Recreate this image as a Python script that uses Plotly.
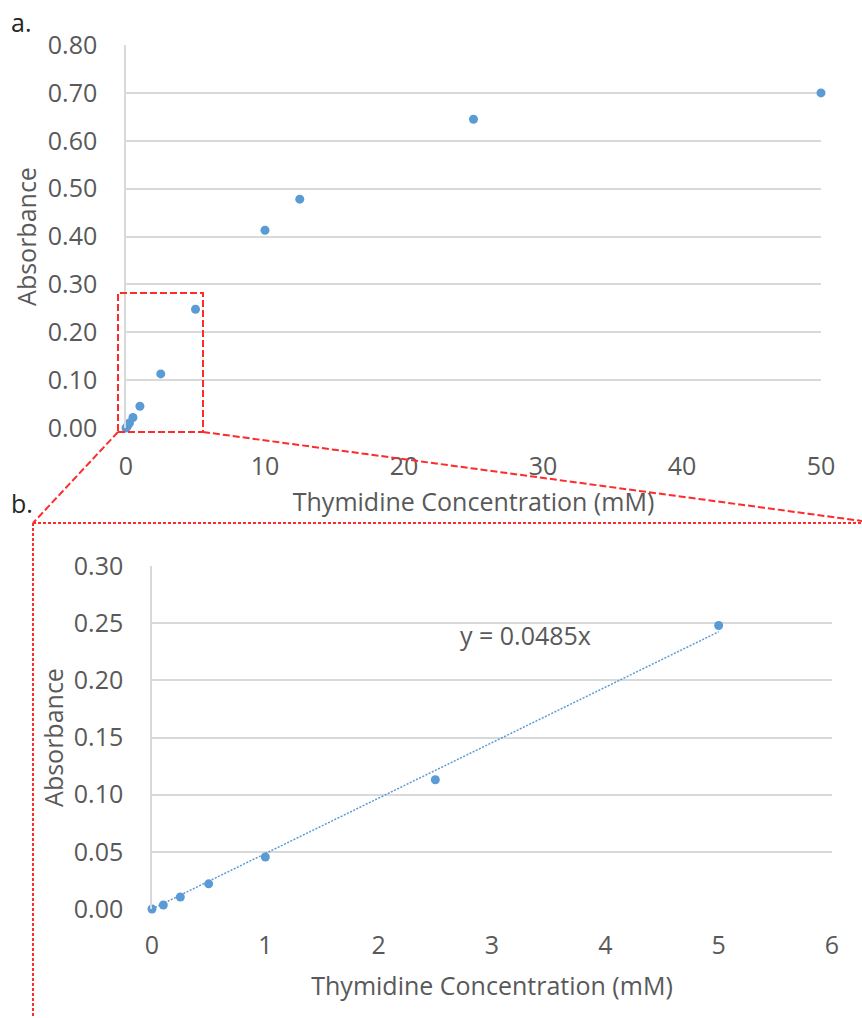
import plotly.graph_objects as go

# Thymidine standard curve data
conc_mM = [0, 0.1, 0.25, 0.5, 1, 2.5, 5, 10, 12.5, 25, 50]
absorbance = [0.0, 0.0035, 0.0105, 0.022, 0.0455, 0.113, 0.248, 0.413, 0.478, 0.645, 0.700]

# low-concentration subset (0-5 mM) for the zoomed panel
low_conc = [0, 0.1, 0.25, 0.5, 1, 2.5, 5]
low_abs = [0.0, 0.0035, 0.0105, 0.022, 0.0455, 0.113, 0.248]

slope = 0.0485
fit_x = [0, 5]
fit_y = [slope * v for v in fit_x]

top_yticks = [0, 0.1, 0.2, 0.3, 0.4, 0.5, 0.6, 0.7, 0.8]
top_xticks = [0, 10, 20, 30, 40, 50]
bot_yticks = [0, 0.05, 0.10, 0.15, 0.20, 0.25, 0.30]
bot_xticks = [0, 1, 2, 3, 4, 5, 6]

W, H = 862, 1018
BLUE = "#5B9BD5"
GRID = "#D9D9D9"
TXT = "#595959"
RED = "#FF2A2A"
FONT = "Open Sans"
FS = 25


def px(x):
    return x / W


def py(y):
    return 1 - y / H


fig = go.Figure()

fig.add_trace(go.Scatter(
    x=conc_mM, y=absorbance, mode="markers",
    marker=dict(color=BLUE, size=9), cliponaxis=False,
    xaxis="x", yaxis="y", showlegend=False,
))
fig.add_trace(go.Scatter(
    x=fit_x, y=fit_y, mode="lines",
    line=dict(color=BLUE, width=1.5, dash="2px,1.5px"),
    xaxis="x2", yaxis="y2", showlegend=False, cliponaxis=False,
))
fig.add_trace(go.Scatter(
    x=low_conc, y=low_abs, mode="markers",
    marker=dict(color=BLUE, size=9), cliponaxis=False,
    xaxis="x2", yaxis="y2", showlegend=False,
))

axis_font = dict(family=FONT, size=FS, color=TXT)
title_font = dict(family=FONT, size=FS, color=TXT)

common_x = dict(showgrid=False, zeroline=False, showline=False, ticks="",
                tickfont=axis_font, automargin=False)
common_y = dict(showgrid=True, gridcolor=GRID, gridwidth=1.5, zeroline=False,
                showline=True, linecolor=GRID, linewidth=1.5, ticks="",
                tickfont=axis_font, automargin=False)

fig.update_layout(
    width=W, height=H,
    margin=dict(l=0, r=0, t=0, b=0),
    paper_bgcolor="white", plot_bgcolor="white",
    font=dict(family=FONT, color=TXT),
    xaxis=dict(
        domain=[px(126), px(821)], range=[0, 50],
        tickvals=top_xticks, ticktext=[str(v) for v in top_xticks],
        ticklabelstandoff=21,
        title=dict(text="Thymidine Concentration (mM)", font=title_font, standoff=12),
        anchor="y", **common_x,
    ),
    yaxis=dict(
        domain=[py(428), py(45)], range=[0, 0.8],
        tickvals=top_yticks, ticktext=[f"{v:.2f}" for v in top_yticks],
        ticklabelstandoff=22,
        title=dict(text="Absorbance", font=title_font, standoff=4),
        anchor="x", **common_y,
    ),
    xaxis2=dict(
        domain=[px(152), px(832)], range=[0, 6],
        tickvals=bot_xticks, ticktext=[str(v) for v in bot_xticks],
        ticklabelstandoff=19,
        title=dict(text="Thymidine Concentration (mM)", font=title_font, standoff=17),
        anchor="y2", **common_x,
    ),
    yaxis2=dict(
        domain=[py(909), py(566)], range=[0, 0.30],
        tickvals=bot_yticks, ticktext=[f"{v:.2f}" for v in bot_yticks],
        ticklabelstandoff=22,
        title=dict(text="Absorbance", font=title_font, standoff=3),
        anchor="x2", **common_y,
    ),
)

# panel letters and fit equation
fig.add_annotation(x=px(9), y=py(22), xref="paper", yref="paper", text="a.",
                   showarrow=False, xanchor="left", yanchor="middle",
                   font=dict(family=FONT, size=FS, color="#262626"))
fig.add_annotation(x=px(9), y=py(503), xref="paper", yref="paper", text="b.",
                   showarrow=False, xanchor="left", yanchor="middle",
                   font=dict(family=FONT, size=FS, color="#262626"))
fig.add_annotation(x=2.70, y=0.2395, xref="x2", yref="y2", text=f"y = {slope}x",
                   showarrow=False, xanchor="left", yanchor="middle",
                   font=dict(family=FONT, size=FS, color=TXT))

# zoom box on the low-concentration region and its connectors
DASH = "7px,3px"
DOT = "3px,2px"
fig.add_shape(type="rect", xref="paper", yref="paper",
              x0=px(118), x1=px(203), y0=py(432), y1=py(293),
              line=dict(color=RED, width=2, dash=DASH))
fig.add_shape(type="line", xref="paper", yref="paper",
              x0=px(118), y0=py(432), x1=px(33), y1=py(523),
              line=dict(color=RED, width=2, dash=DASH))
fig.add_shape(type="line", xref="paper", yref="paper",
              x0=px(203), y0=py(432), x1=px(862), y1=py(521),
              line=dict(color=RED, width=2, dash=DASH))
fig.add_shape(type="line", xref="paper", yref="paper",
              x0=px(33), y0=py(523), x1=px(862), y1=py(523),
              line=dict(color=RED, width=2, dash=DOT))
fig.add_shape(type="line", xref="paper", yref="paper",
              x0=px(33), y0=py(523), x1=px(33), y1=py(1018),
              line=dict(color=RED, width=2, dash=DOT))

fig.write_html("out.html")
